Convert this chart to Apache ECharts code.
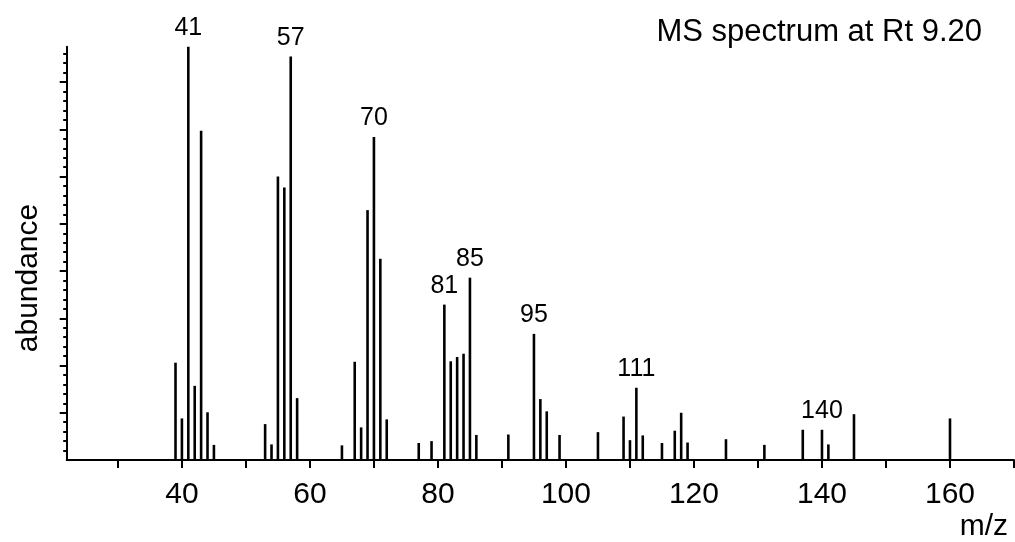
<!DOCTYPE html>
<html>
<head>
<meta charset="utf-8">
<script src="https://cdn.jsdelivr.net/npm/echarts@6/dist/echarts.min.js"></script>
<style>
html,body{margin:0;padding:0;background:#fff;}
#chart{width:1015px;height:542px;}
</style>
</head>
<body>
<div id="chart"></div>
<script>
// m/z values of the peaks
var mzValues = [39,40,41,42,43,44,45,53,54,55,56,57,58,65,67,68,69,70,71,72,77,79,81,82,83,84,85,86,91,95,96,97,99,105,109,110,111,112,115,117,118,119,125,131,137,140,141,145,160];
// abundance (arbitrary units, one major y tick = 10)
var abundance = [20.6,8.8,87.5,15.7,69.7,10.1,3.2,7.6,3.3,60.0,57.7,85.4,13.1,3.1,20.8,6.9,52.9,68.4,42.6,8.6,3.6,4.0,32.9,20.9,21.8,22.5,38.6,5.3,5.4,26.7,12.9,10.3,5.3,5.9,9.2,4.2,15.3,5.2,3.6,6.2,10.0,3.7,4.4,3.2,6.4,6.4,3.3,9.7,8.8];
// peaks that carry an m/z label
var labeledPeaks = [41,57,70,81,85,95,111,140];
// axis ticks
var xTicks = [30,40,50,60,70,80,90,100,110,120,130,140,150,160,170];
var xLabels = [40,60,80,100,120,140,160];
var yMajorTicks = [10,20,30,40,50,60,70,80];
var yMinorTicks = [2,4,6,8,12,14,16,18,22,24,26,28,32,34,36,38,42,44,46,48,52,54,56,58,62,64,66,68,72,74,76,78,82,84,86];
var yMax = 87.5;
var titleText = 'MS spectrum at Rt 9.20';
var xName = 'm/z';
var yName = 'abundance';

var FONT = '"Liberation Sans", Arial, sans-serif';
var data = mzValues.map(function (m, i) { return [m, abundance[i]]; });

var chart = echarts.init(document.getElementById('chart'), null, {renderer: 'canvas'});
chart.setOption({
  animation: false,
  backgroundColor: '#fff',
  grid: {left: 66.7, right: 1, top: 46.7, bottom: 82, containLabel: false},
  xAxis: {
    type: 'value', min: 22, max: 170,
    axisLine: {show: true, lineStyle: {color: '#000', width: 2}},
    axisTick: {show: true, customValues: xTicks, length: 8, inside: false, lineStyle: {color: '#000', width: 2}},
    axisLabel: {show: true, customValues: xLabels, fontSize: 30, fontFamily: FONT, color: '#000', margin: 20},
    splitLine: {show: false}
  },
  yAxis: [{
    type: 'value', min: 0, max: yMax, position: 'left',
    axisLine: {show: true, lineStyle: {color: '#000', width: 2}},
    axisTick: {show: true, customValues: yMajorTicks, length: 7, lineStyle: {color: '#000', width: 2}},
    axisLabel: {show: false},
    splitLine: {show: false}
  }, {
    type: 'value', min: 0, max: yMax, position: 'left',
    axisLine: {show: false},
    axisTick: {show: true, customValues: yMinorTicks, length: 3.5, lineStyle: {color: '#000', width: 2}},
    axisLabel: {show: false},
    splitLine: {show: false}
  }],
  series: [{
    type: 'bar',
    yAxisIndex: 0,
    barWidth: 2.6,
    data: data,
    itemStyle: {color: '#000'},
    label: {
      show: true, position: 'top', distance: 6,
      fontSize: 25, fontFamily: FONT, color: '#000',
      formatter: function (p) { return labeledPeaks.indexOf(p.value[0]) >= 0 ? String(p.value[0]) : ''; }
    }
  }],
  graphic: [{
    type: 'text', right: 33, top: 17,
    style: {text: titleText, fontSize: 31, fontFamily: FONT, fill: '#000'}
  }, {
    type: 'text', right: 7, top: 512,
    style: {text: xName, fontSize: 30, fontFamily: FONT, fill: '#000'}
  }, {
    type: 'text', x: 29, y: 278, rotation: Math.PI / 2,
    style: {text: yName, fontSize: 30, fontFamily: FONT, fill: '#000', align: 'center', verticalAlign: 'middle'}
  }]
});
</script>
</body>
</html>
